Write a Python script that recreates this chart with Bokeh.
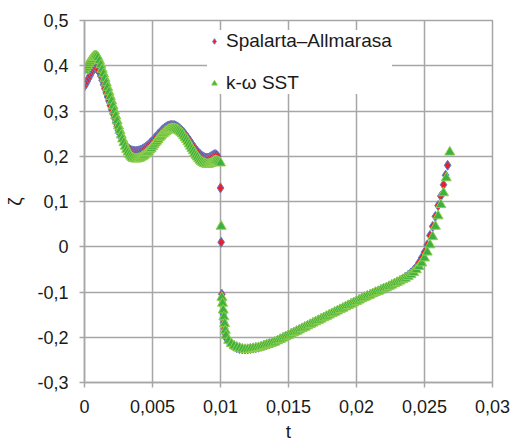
from bokeh.plotting import figure
from bokeh.models import Range1d, FixedTicker, Legend, LegendItem, ColumnDataSource
from bokeh.embed import file_html
from bokeh.resources import INLINE

# ---- data ----
t_sa = [0.0000, 0.0001, 0.0002, 0.0003, 0.0004, 0.0005, 0.0006, 0.0007, 0.0008, 0.0009,
        0.0010, 0.0011, 0.0012, 0.0013, 0.0014, 0.0015, 0.0016, 0.0017, 0.0018, 0.0019,
        0.0020, 0.0021, 0.0022, 0.0023, 0.0024, 0.0025, 0.0026, 0.0027, 0.0028, 0.0029,
        0.0030, 0.0031, 0.0032, 0.0033, 0.0034, 0.0035, 0.0036, 0.0037, 0.0038, 0.0039,
        0.0040, 0.0041, 0.0042, 0.0043, 0.0044, 0.0045, 0.0046, 0.0047, 0.0048, 0.0049,
        0.0050, 0.0051, 0.0052, 0.0053, 0.0054, 0.0055, 0.0056, 0.0057, 0.0058, 0.0059,
        0.0060, 0.0061, 0.0062, 0.0063, 0.0064, 0.0065, 0.0066, 0.0067, 0.0068, 0.0069,
        0.0070, 0.0071, 0.0072, 0.0073, 0.0074, 0.0075, 0.0076, 0.0077, 0.0078, 0.0079,
        0.0080, 0.0081, 0.0082, 0.0083, 0.0084, 0.0085, 0.0086, 0.0087, 0.0088, 0.0089,
        0.0090, 0.0091, 0.0092, 0.0093, 0.0094, 0.0095, 0.0096, 0.0097, 0.0098,
        0.0100, 0.01005, 0.0101, 0.01015, 0.0102, 0.01025, 0.0103, 0.01035, 0.0104, 0.0106,
        0.0108, 0.0110, 0.0112, 0.0114, 0.0116, 0.0118, 0.0120, 0.0122, 0.0124, 0.0126,
        0.0128, 0.0130, 0.0132, 0.0134, 0.0136, 0.0138, 0.0140, 0.0142, 0.0144, 0.0146,
        0.0148, 0.0150, 0.0152, 0.0154, 0.0156, 0.0158, 0.0160, 0.0162, 0.0164, 0.0166,
        0.0168, 0.0170, 0.0172, 0.0174, 0.0176, 0.0178, 0.0180, 0.0182, 0.0184, 0.0186,
        0.0188, 0.0190, 0.0192, 0.0194, 0.0196, 0.0198, 0.0200, 0.0202, 0.0204, 0.0206,
        0.0208, 0.0210, 0.0212, 0.0214, 0.0216, 0.0218, 0.0220, 0.0222, 0.0224, 0.0226,
        0.0228, 0.0230, 0.0232, 0.0234, 0.0236, 0.0238, 0.0240, 0.0242, 0.0244, 0.0246,
        0.0248, 0.0250, 0.0252, 0.0254, 0.0256, 0.0258, 0.0260, 0.0262, 0.0264, 0.02655,
        0.0267]
z_sa = [0.355, 0.360, 0.366, 0.372, 0.378, 0.384, 0.389, 0.393, 0.395, 0.394,
        0.391, 0.385, 0.377, 0.368, 0.358, 0.349, 0.340, 0.331, 0.322, 0.312,
        0.303, 0.294, 0.285, 0.275, 0.266, 0.257, 0.249, 0.242, 0.235, 0.229,
        0.224, 0.220, 0.217, 0.215, 0.213, 0.212, 0.211, 0.211, 0.211, 0.211,
        0.212, 0.213, 0.214, 0.216, 0.218, 0.220, 0.222, 0.225, 0.228, 0.231,
        0.234, 0.237, 0.241, 0.244, 0.248, 0.251, 0.254, 0.257, 0.260, 0.262,
        0.264, 0.266, 0.267, 0.268, 0.268, 0.268, 0.268, 0.267, 0.265, 0.263,
        0.261, 0.258, 0.255, 0.252, 0.248, 0.244, 0.240, 0.236, 0.231, 0.227,
        0.222, 0.218, 0.214, 0.210, 0.207, 0.204, 0.201, 0.199, 0.197, 0.196,
        0.196, 0.196, 0.197, 0.199, 0.201, 0.203, 0.204, 0.203, 0.200,
        0.130, 0.010, -0.105, -0.118, -0.148, -0.167, -0.181, -0.193, -0.201, -0.210,
        -0.216, -0.220, -0.223, -0.225, -0.226, -0.226, -0.226, -0.225, -0.224, -0.223,
        -0.222, -0.220, -0.218, -0.216, -0.214, -0.212, -0.210, -0.207, -0.204, -0.201,
        -0.198, -0.195, -0.192, -0.189, -0.186, -0.183, -0.180, -0.177, -0.174, -0.171,
        -0.168, -0.165, -0.162, -0.159, -0.156, -0.153, -0.150, -0.147, -0.144, -0.141,
        -0.138, -0.135, -0.132, -0.129, -0.126, -0.123, -0.120, -0.117, -0.114, -0.111,
        -0.108, -0.106, -0.103, -0.100, -0.098, -0.095, -0.092, -0.090, -0.087, -0.084,
        -0.081, -0.078, -0.075, -0.071, -0.067, -0.063, -0.058, -0.052, -0.045, -0.035,
        -0.024, -0.012, 0.004, 0.025, 0.045, 0.067, 0.091, 0.112, 0.137, 0.158,
        0.180]

t_sst = [0.0000, 0.0001, 0.0002, 0.0003, 0.0004, 0.0005, 0.0006, 0.0007, 0.0008, 0.0009,
         0.0010, 0.0011, 0.0012, 0.0013, 0.0014, 0.0015, 0.0016, 0.0017, 0.0018, 0.0019,
         0.0020, 0.0021, 0.0022, 0.0023, 0.0024, 0.0025, 0.0026, 0.0027, 0.0028, 0.0029,
         0.0030, 0.0031, 0.0032, 0.0033, 0.0034, 0.0035, 0.0036, 0.0037, 0.0038, 0.0039,
         0.0040, 0.0041, 0.0042, 0.0043, 0.0044, 0.0045, 0.0046, 0.0047, 0.0048, 0.0049,
         0.0050, 0.0051, 0.0052, 0.0053, 0.0054, 0.0055, 0.0056, 0.0057, 0.0058, 0.0059,
         0.0060, 0.0061, 0.0062, 0.0063, 0.0064, 0.0065, 0.0066, 0.0067, 0.0068, 0.0069,
         0.0070, 0.0071, 0.0072, 0.0073, 0.0074, 0.0075, 0.0076, 0.0077, 0.0078, 0.0079,
         0.0080, 0.0081, 0.0082, 0.0083, 0.0084, 0.0085, 0.0086, 0.0087, 0.0088, 0.0089,
         0.0090, 0.0091, 0.0092, 0.0093, 0.0094, 0.0095, 0.0096, 0.0097, 0.0098, 0.0099,
         0.0100, 0.01005, 0.0101, 0.01015, 0.0102, 0.01025, 0.0103, 0.01035, 0.0104, 0.0106,
         0.0108, 0.0110, 0.0112, 0.0114, 0.0116, 0.0118, 0.0120, 0.0122, 0.0124, 0.0126,
         0.0128, 0.0130, 0.0132, 0.0134, 0.0136, 0.0138, 0.0140, 0.0142, 0.0144, 0.0146,
         0.0148, 0.0150, 0.0152, 0.0154, 0.0156, 0.0158, 0.0160, 0.0162, 0.0164, 0.0166,
         0.0168, 0.0170, 0.0172, 0.0174, 0.0176, 0.0178, 0.0180, 0.0182, 0.0184, 0.0186,
         0.0188, 0.0190, 0.0192, 0.0194, 0.0196, 0.0198, 0.0200, 0.0202, 0.0204, 0.0206,
         0.0208, 0.0210, 0.0212, 0.0214, 0.0216, 0.0218, 0.0220, 0.0222, 0.0224, 0.0226,
         0.0228, 0.0230, 0.0232, 0.0234, 0.0236, 0.0238, 0.0240, 0.0242, 0.0244, 0.0246,
         0.0248, 0.0250, 0.0252, 0.0254, 0.0256, 0.0258, 0.0260, 0.0262, 0.0264, 0.0266,
         0.02686]
z_sst = [0.390, 0.395, 0.400, 0.405, 0.410, 0.414, 0.418, 0.421, 0.422, 0.421,
         0.418, 0.411, 0.402, 0.392, 0.382, 0.372, 0.362, 0.352, 0.342, 0.332,
         0.322, 0.311, 0.300, 0.289, 0.278, 0.267, 0.257, 0.247, 0.238, 0.230,
         0.222, 0.215, 0.209, 0.204, 0.200, 0.197, 0.195, 0.194, 0.194, 0.194,
         0.195, 0.196, 0.198, 0.200, 0.202, 0.205, 0.208, 0.211, 0.214, 0.217,
         0.221, 0.225, 0.229, 0.233, 0.237, 0.241, 0.244, 0.247, 0.250, 0.253,
         0.255, 0.257, 0.259, 0.260, 0.261, 0.261, 0.261, 0.260, 0.259, 0.257,
         0.255, 0.252, 0.249, 0.245, 0.241, 0.237, 0.232, 0.227, 0.222, 0.217,
         0.212, 0.207, 0.202, 0.198, 0.194, 0.191, 0.188, 0.186, 0.184, 0.183,
         0.182, 0.182, 0.183, 0.184, 0.186, 0.188, 0.190, 0.190, 0.189, 0.187,
         0.185, 0.045, -0.112, -0.125, -0.140, -0.155, -0.170, -0.185, -0.196, -0.207,
         -0.214, -0.219, -0.222, -0.224, -0.226, -0.227, -0.227, -0.226, -0.225, -0.224,
         -0.223, -0.221, -0.219, -0.217, -0.215, -0.213, -0.211, -0.208, -0.205, -0.202,
         -0.199, -0.196, -0.193, -0.190, -0.187, -0.184, -0.181, -0.178, -0.175, -0.172,
         -0.169, -0.166, -0.163, -0.160, -0.157, -0.154, -0.151, -0.148, -0.145, -0.142,
         -0.139, -0.136, -0.133, -0.130, -0.127, -0.124, -0.121, -0.118, -0.115, -0.112,
         -0.109, -0.107, -0.104, -0.101, -0.099, -0.096, -0.093, -0.091, -0.088, -0.085,
         -0.082, -0.079, -0.076, -0.073, -0.070, -0.066, -0.062, -0.057, -0.051, -0.044,
         -0.036, -0.025, -0.012, 0.004, 0.022, 0.045, 0.068, 0.093, 0.119, 0.152,
         0.209]

x_ticks = [0, 0.005, 0.01, 0.015, 0.02, 0.025, 0.03]
x_tick_labels = ["0", "0,005", "0,01", "0,015", "0,02", "0,025", "0,03"]
y_ticks = [-0.3, -0.2, -0.1, 0, 0.1, 0.2, 0.3, 0.4, 0.5]
y_tick_labels = ["-0,3", "-0,2", "-0,1", "0", "0,1", "0,2", "0,3", "0,4", "0,5"]
series_names = ["Spalarta\u2013Allmarasa", "k-\u03c9 SST"]

FONT = "Liberation Sans"
GRID = "#a6a6a6"
TXT = "#1a1a1a"

p = figure(width=513, height=444, output_backend="svg", toolbar_location=None,
           x_range=Range1d(0, 0.03), y_range=Range1d(-0.3, 0.5),
           min_border_left=84, min_border_right=21, min_border_top=20, min_border_bottom=60)
p.background_fill_color = "white"
p.border_fill_color = "white"
p.outline_line_color = GRID
p.outline_line_width = 1.5

for ax in (p.xaxis[0], p.yaxis[0]):
    ax.axis_line_color = GRID
    ax.axis_line_width = 1.5
    ax.major_tick_line_color = GRID
    ax.major_tick_line_width = 1.5
    ax.major_tick_in = 0
    ax.major_tick_out = 5
    ax.minor_tick_line_color = None
    ax.major_label_text_font = FONT
    ax.major_label_text_font_size = "18px"
    ax.major_label_text_color = TXT
    ax.axis_label_text_font = FONT
    ax.axis_label_text_font_size = "19px"
    ax.axis_label_text_font_style = "normal"
    ax.axis_label_text_color = TXT

p.xaxis.ticker = FixedTicker(ticks=x_ticks)
p.xaxis.major_label_overrides = {v: s for v, s in zip(x_ticks, x_tick_labels)}
p.yaxis.ticker = FixedTicker(ticks=y_ticks)
p.yaxis.major_label_overrides = {v: s for v, s in zip(y_ticks, y_tick_labels)}
p.xaxis.axis_label = "t"
p.yaxis.axis_label = "\u03b6"
p.xaxis.major_label_standoff = 12
p.xaxis.axis_label_standoff = 5
p.yaxis.major_label_standoff = 11
p.yaxis.axis_label_standoff = 9

p.xgrid.grid_line_color = GRID
p.ygrid.grid_line_color = GRID
p.xgrid.grid_line_width = 1.5
p.ygrid.grid_line_width = 1.5

src_sa = ColumnDataSource(dict(t=t_sa, z=z_sa))
src_sst = ColumnDataSource(dict(t=t_sst, z=z_sst))

r_sa = p.scatter("t", "z", source=src_sa, marker="diamond", size=10,
                 fill_color="#e8202a", line_color="#5a7fd0", line_width=1)
r_sst = p.scatter("t", "z", source=src_sst, marker="triangle", size=10,
                  fill_color="#3cb043", line_color="#8fcf4a", line_width=1)

legend = Legend(items=[LegendItem(label=series_names[0], renderers=[r_sa]),
                       LegendItem(label=series_names[1], renderers=[r_sst])],
                location=(123, 288))
legend.label_text_font = FONT
legend.label_text_font_size = "19px"
legend.label_text_color = TXT
legend.border_line_color = None
legend.background_fill_color = "white"
legend.background_fill_alpha = 1
legend.spacing = 20
legend.glyph_width = 14
legend.glyph_height = 20
legend.label_height = 20
legend.label_standoff = 5
legend.padding = 6
p.add_layout(legend)

open("out.html", "w").write(file_html(p, INLINE))
